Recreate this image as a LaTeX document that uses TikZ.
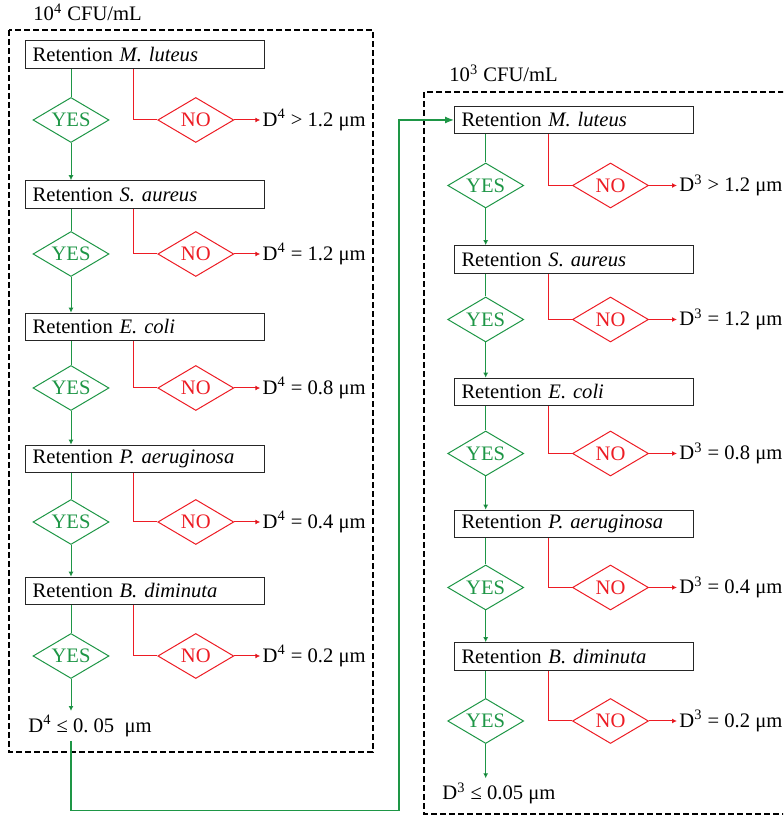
\documentclass[tikz,border=0pt]{standalone}
\usepackage{fontspec}
\setmainfont{Liberation Serif}
\usetikzlibrary{positioning,shapes.geometric,arrows.meta}
\definecolor{yesgreen}{RGB}{30,150,70}
\definecolor{nored}{RGB}{237,28,36}
\tikzstyle{retbox}=[draw=black!85,line width=0.5pt,minimum height=13.8pt,text width=112.3pt,inner xsep=3.5pt,inner ysep=0pt,align=left]
\tikzstyle{yesdia}=[diamond,draw=yesgreen,text=yesgreen,aspect=1.7,minimum width=38pt,minimum height=22.5pt,inner sep=0pt,line width=0.5pt]
\tikzstyle{nodia}=[yesdia,draw=nored,text=nored]
\tikzstyle{outcome}=[inner sep=1pt]
\tikzstyle{yesflow}=[draw=yesgreen,line width=0.5pt]
\tikzstyle{noflow}=[draw=nored,line width=0.5pt]
\tikzstyle{panel}=[draw,line width=1pt,dash pattern=on 3pt off 1.5pt]
\newcommand{\Ret}[1]{Retention \textit{#1}}
\newcommand{\Dsize}[3]{D\textsuperscript{#1} #2 #3 μm}

\begin{document}
\begin{tikzpicture}[x=0.5pt,y=0.5pt,font=\fontsize{10.3}{12}\selectfont,node distance=62.4pt,>={Latex[length=2.5pt,width=2.5pt]}]
  \useasboundingbox (0,0) rectangle (783,819);
  \clip (0,0) rectangle (783,819);

  % 10^4 CFU/mL
  \node(ltitle)[anchor=west,inner sep=1pt] at (31,807) {10\textsuperscript{4} CFU/mL};
  \draw[panel] (9,789) rectangle (373.3,67.3);

  \node(lbox1)[retbox] at (145,764.5) {\Ret{M. luteus}};
  \node(lyes1)[yesdia] at (71,699) {YES};
  \node(lno1)[nodia,right of=lyes1] {NO};
  \node(lout1)[outcome,right=13pt of lno1] {\Dsize{4}{>}{1.2}};

  \node(lbox2)[retbox] at (145,624.5) {\Ret{S. aureus}};
  \node(lyes2)[yesdia] at (71,565) {YES};
  \node(lno2)[nodia,right of=lyes2] {NO};
  \node(lout2)[outcome,right=13pt of lno2] {\Dsize{4}{=}{1.2}};

  \node(lbox3)[retbox] at (145,492) {\Ret{E. coli}};
  \node(lyes3)[yesdia] at (71,431) {YES};
  \node(lno3)[nodia,right of=lyes3] {NO};
  \node(lout3)[outcome,right=13pt of lno3] {\Dsize{4}{=}{0.8}};

  \node(lbox4)[retbox] at (145,360) {\Ret{P. aeruginosa}};
  \node(lyes4)[yesdia] at (71,297) {YES};
  \node(lno4)[nodia,right of=lyes4] {NO};
  \node(lout4)[outcome,right=13pt of lno4] {\Dsize{4}{=}{0.4}};

  \node(lbox5)[retbox] at (145,228) {\Ret{B. diminuta}};
  \node(lyes5)[yesdia] at (71,163) {YES};
  \node(lno5)[nodia,right of=lyes5] {NO};
  \node(lout5)[outcome,right=13pt of lno5] {\Dsize{4}{=}{0.2}};

  \node(lfinal)[outcome,inner ysep=2pt,anchor=west] at (26,93) {D\textsuperscript{4} ≤ 0.\ 05\ \ μm};

  \path[yesflow]
    (lbox1.south -| lyes1) edge (lyes1)
    (lyes1) edge[->] (lbox2.north -| lyes1)
    (lbox2.south -| lyes2) edge (lyes2)
    (lyes2) edge[->] (lbox3.north -| lyes2)
    (lbox3.south -| lyes3) edge (lyes3)
    (lyes3) edge[->] (lbox4.north -| lyes3)
    (lbox4.south -| lyes4) edge (lyes4)
    (lyes4) edge[->] (lbox5.north -| lyes4)
    (lbox5.south -| lyes5) edge (lyes5)
    (lyes5) edge[->] (lfinal.north -| lyes5);

  \draw[noflow] ([xshift=-12pt]lbox1.south -| lno1.west) |- (lno1);
  \draw[noflow] ([xshift=-12pt]lbox2.south -| lno2.west) |- (lno2);
  \draw[noflow] ([xshift=-12pt]lbox3.south -| lno3.west) |- (lno3);
  \draw[noflow] ([xshift=-12pt]lbox4.south -| lno4.west) |- (lno4);
  \draw[noflow] ([xshift=-12pt]lbox5.south -| lno5.west) |- (lno5);
  \path[noflow]
    (lno1) edge[->] (lout1)
    (lno2) edge[->] (lout2)
    (lno3) edge[->] (lout3)
    (lno4) edge[->] (lout4)
    (lno5) edge[->] (lout5);

  % 10^3 CFU/mL
  \node(rtitle)[anchor=west,inner sep=1pt] at (447,746) {10\textsuperscript{3} CFU/mL};
  \draw[panel] (424,727) rectangle (800,5);

  \node(rbox1)[retbox] at (573.8,699) {\Ret{M. luteus}};
  \node(ryes1)[yesdia] at (485.7,633.5) {YES};
  \node(rno1)[nodia,right of=ryes1] {NO};
  \node(rout1)[outcome,right=14pt of rno1] {\Dsize{3}{>}{1.2}};

  \node(rbox2)[retbox] at (573.8,559.5) {\Ret{S. aureus}};
  \node(ryes2)[yesdia] at (485.7,499.5) {YES};
  \node(rno2)[nodia,right of=ryes2] {NO};
  \node(rout2)[outcome,right=14pt of rno2] {\Dsize{3}{=}{1.2}};

  \node(rbox3)[retbox] at (573.8,427) {\Ret{E. coli}};
  \node(ryes3)[yesdia] at (485.7,365.5) {YES};
  \node(rno3)[nodia,right of=ryes3] {NO};
  \node(rout3)[outcome,right=14pt of rno3] {\Dsize{3}{=}{0.8}};

  \node(rbox4)[retbox] at (573.8,295) {\Ret{P. aeruginosa}};
  \node(ryes4)[yesdia] at (485.7,231.5) {YES};
  \node(rno4)[nodia,right of=ryes4] {NO};
  \node(rout4)[outcome,right=14pt of rno4] {\Dsize{3}{=}{0.4}};

  \node(rbox5)[retbox] at (573.8,162.5) {\Ret{B. diminuta}};
  \node(ryes5)[yesdia] at (485.7,98) {YES};
  \node(rno5)[nodia,right of=ryes5] {NO};
  \node(rout5)[outcome,right=14pt of rno5] {\Dsize{3}{=}{0.2}};

  \node(rfinal)[outcome,inner ysep=2pt,anchor=west] at (440,25.7) {D\textsuperscript{3} ≤ 0.05 μm};

  \path[yesflow]
    (rbox1.south -| ryes1) edge (ryes1)
    (ryes1) edge[->] (rbox2.north -| ryes1)
    (rbox2.south -| ryes2) edge (ryes2)
    (ryes2) edge[->] (rbox3.north -| ryes2)
    (rbox3.south -| ryes3) edge (ryes3)
    (ryes3) edge[->] (rbox4.north -| ryes3)
    (rbox4.south -| ryes4) edge (ryes4)
    (ryes4) edge[->] (rbox5.north -| ryes4)
    (rbox5.south -| ryes5) edge (ryes5)
    (ryes5) edge[->] (rfinal.north -| ryes5);

  \draw[noflow] ([xshift=-12pt]rbox1.south -| rno1.west) |- (rno1);
  \draw[noflow] ([xshift=-12pt]rbox2.south -| rno2.west) |- (rno2);
  \draw[noflow] ([xshift=-12pt]rbox3.south -| rno3.west) |- (rno3);
  \draw[noflow] ([xshift=-12pt]rbox4.south -| rno4.west) |- (rno4);
  \draw[noflow] ([xshift=-12pt]rbox5.south -| rno5.west) |- (rno5);
  \path[noflow]
    (rno1) edge[->] (rout1)
    (rno2) edge[->] (rout2)
    (rno3) edge[->] (rout3)
    (rno4) edge[->] (rout4)
    (rno5) edge[->] (rout5);

  % from the 10^4 result into the 10^3 series
  \coordinate(turn) at (399,8.5);
  \draw[yesflow,line width=0.6pt,-{Latex[length=4.5pt,width=3.5pt]}]
    (lfinal.south -| lyes5) |- (turn) |- (rbox1.west);
\end{tikzpicture}
\end{document}
